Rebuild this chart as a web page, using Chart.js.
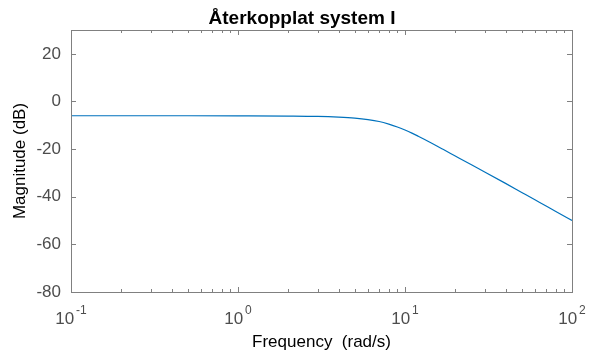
<!DOCTYPE html>
<html>
<head>
<meta charset="utf-8">
<script src="https://cdn.jsdelivr.net/npm/chart.js@4/dist/chart.umd.min.js"></script>
<style>
  html, body { margin: 0; padding: 0; background: #fff; }
  #wrap { width: 596px; height: 354px; }
</style>
</head>
<body>
<div id="wrap"><canvas id="bode" width="596" height="354"></canvas></div>
<script>
// values
const freqs = [0.1, 0.2, 0.5, 1, 2, 3, 4, 5, 6, 7, 8, 9, 10, 11, 12, 14, 17, 20, 25, 30, 40, 50, 60, 70, 80, 100];
const magDb = [-6.0, -6.0, -6.0, -6.05, -6.15, -6.3, -6.6, -7.0, -7.6, -8.4, -9.5, -10.7, -12.0, -13.3, -14.6, -17.0, -20.2, -22.9, -26.6, -29.6, -34.4, -38.2, -41.3, -43.9, -46.2, -50.0];
const xDecades = [0.1, 1, 10, 100];
const xExponents = ['-1', '0', '1', '2'];
const yTicks = [-80, -60, -40, -20, 0, 20];

const font = '"Liberation Sans", Helvetica, Arial, sans-serif';
const axisGray = '#808080';

// box, inward ticks, log tick labels, axis titles
const matlabAxes = {
  id: 'matlabAxes',
  afterDraw(chart) {
    const ctx = chart.ctx;
    const a = chart.chartArea;
    const xs = chart.scales.x, ys = chart.scales.y;
    ctx.save();
    ctx.strokeStyle = axisGray;
    ctx.lineWidth = 1;
    ctx.strokeRect(Math.round(a.left) + 0.5, Math.round(a.top) + 0.5,
      Math.round(a.right - a.left), Math.round(a.bottom - a.top));

    ctx.beginPath();
    // x ticks, major + minor, top and bottom
    for (let d = 0; d < xDecades.length; d++) {
      for (let m = 1; m <= 9; m++) {
        const v = xDecades[d] * m;
        if (v > 100) break;
        const px = Math.round(xs.getPixelForValue(v)) + 0.5;
        const len = m === 1 ? 5 : 3;
        ctx.moveTo(px, a.bottom); ctx.lineTo(px, a.bottom - len);
        ctx.moveTo(px, a.top); ctx.lineTo(px, a.top + len);
      }
    }
    // y ticks left and right
    yTicks.forEach(v => {
      const py = Math.round(ys.getPixelForValue(v)) + 0.5;
      ctx.moveTo(a.left, py); ctx.lineTo(a.left + 5, py);
      ctx.moveTo(a.right, py); ctx.lineTo(a.right - 5, py);
    });
    ctx.stroke();

    // x tick labels 10^n
    ctx.fillStyle = '#4d4d4d';
    ctx.textBaseline = 'alphabetic';
    xDecades.forEach((v, i) => {
      const px = xs.getPixelForValue(v);
      ctx.font = '17px ' + font;
      const wBase = ctx.measureText('10').width;
      ctx.font = '12px ' + font;
      const wExp = ctx.measureText(xExponents[i]).width;
      const x0 = px - (wBase + 2 + wExp) / 2;
      ctx.font = '17px ' + font;
      ctx.textAlign = 'left';
      ctx.fillText('10', x0, 324);
      ctx.font = '12px ' + font;
      ctx.fillText(xExponents[i], x0 + wBase + 2, 314);
    });

    // axis titles
    ctx.fillStyle = '#000';
    ctx.textAlign = 'center';
    ctx.font = '17px ' + font;
    ctx.fillText('Frequency  (rad/s)', (a.left + a.right) / 2, 347);
    ctx.save();
    ctx.translate(25, (a.top + a.bottom) / 2);
    ctx.rotate(-Math.PI / 2);
    ctx.fillText('Magnitude (dB)', 0, 0);
    ctx.restore();

    ctx.font = 'bold 19px ' + font;
    ctx.fillText('Återkopplat system I', 302, 24);
    ctx.restore();
  }
};

new Chart(document.getElementById('bode'), {
  type: 'line',
  data: {
    datasets: [{
      data: freqs.map((f, i) => ({ x: f, y: magDb[i] })),
      borderColor: '#0072BD',
      borderWidth: 1.2,
      pointRadius: 0,
      fill: false,
      cubicInterpolationMode: 'monotone'
    }]
  },
  options: {
    responsive: false,
    animation: false,
    layout: { padding: { left: 0, right: 24, top: 30, bottom: 0 } },
    plugins: { legend: { display: false }, tooltip: { enabled: false }, title: { display: false } },
    scales: {
      x: {
        type: 'logarithmic',
        min: 0.1,
        max: 100,
        grid: { display: false, drawTicks: false },
        border: { display: false },
        ticks: { display: false },
        afterFit(scale) { scale.height = 62; }
      },
      y: {
        min: -80,
        max: 30,
        grid: { display: false, drawTicks: false },
        border: { display: false },
        ticks: {
          stepSize: 20,
          includeBounds: false,
          padding: 10,
          color: '#4d4d4d',
          font: { family: font, size: 17 }
        },
        afterFit(scale) { scale.width = 71; }
      }
    }
  },
  plugins: [matlabAxes]
});
</script>
</body>
</html>
